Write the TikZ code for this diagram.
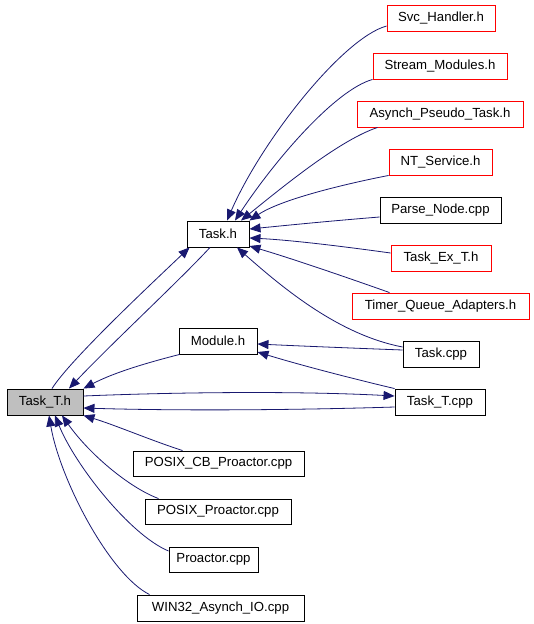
\documentclass[tikz,border=0pt]{standalone}
\usepackage{fontspec}
\setmainfont{Liberation Sans}
\usetikzlibrary{arrows.meta,calc}
\definecolor{edgeblue}{HTML}{191970}
\definecolor{boxred}{HTML}{FF0000}
\definecolor{boxgray}{HTML}{BFBFBF}
\begin{document}
\begin{tikzpicture}[x=1pt,y=-1pt,
  file/.style={draw=black,line width=0.9pt,inner sep=0pt,minimum height=26pt,font=\fontsize{13.2}{15}\selectfont},
  redfile/.style={file,draw=boxred},
  edge/.style={draw=edgeblue,line width=0.8pt,-{Triangle[length=11pt,width=9pt]}}]
\useasboundingbox[fill=white] (0,0) rectangle (533,624);
% nodes
\node[redfile,minimum width=108pt] (svc) at (441,18) {Svc\_Handler.h};
\node[redfile,minimum width=134pt] (stream) at (440,66) {Stream\_Modules.h};
\node[redfile,minimum width=166pt] (asynch) at (440,114) {Asynch\_Pseudo\_Task.h};
\node[redfile,minimum width=103pt] (nt) at (440.5,162) {NT\_Service.h};
\node[file,minimum width=121pt] (parse) at (440.5,210) {Parse\_Node.cpp};
\node[file,minimum width=62pt] (taskh) at (218,234) {Task.h};
\node[redfile,minimum width=100pt] (taskex) at (441,258) {Task\_Ex\_T.h};
\node[redfile,minimum width=177pt] (timer) at (440.5,306) {Timer\_Queue\_Adapters.h};
\node[file,minimum width=78pt] (module) at (218,341) {Module.h};
\node[file,minimum width=76pt] (taskcpp) at (441,354) {Task.cpp};
\node[file,minimum width=90pt] (tasktcpp) at (440,402) {Task\_T.cpp};
\node[file,minimum width=76pt,fill=boxgray] (taskth) at (45,402) {Task\_T.h};
\node[file,minimum width=171pt,minimum height=25pt] (poscb) at (218.5,463.5) {POSIX\_CB\_Proactor.cpp};
\node[file,minimum width=146pt,minimum height=25pt] (pospro) at (218,511.5) {POSIX\_Proactor.cpp};
\node[file,minimum width=89pt,minimum height=25pt] (proactor) at (213.5,559.5) {Proactor.cpp};
\node[file,minimum width=167pt] (win32) at (220.5,608) {WIN32\_Asynch\_IO.cpp};
% edges into Task.h
\draw[edge] ($(svc.west)+(0,8)$) .. controls (343,38) and (262,140) .. ($(taskh.north)+(9,0)$);
\draw[edge] (stream.south west) .. controls (335,90) and (275,160) .. ($(taskh.north)+(17,0)$);
\draw[edge] ($(asynch.south west)+(21,0)$) .. controls (340,140) and (285,185) .. ($(taskh.north)+(23,0)$);
\draw[edge] (nt.south west) .. controls (340,185) and (280,200) .. (taskh.north east);
\draw[edge] ($(parse.west)+(0,7)$) .. controls (330,221) and (290,225) .. ($(taskh.east)+(0,-5)$);
\draw[edge] ($(taskex.west)+(0,-5)$) .. controls (340,246) and (290,240) .. ($(taskh.east)+(0,4)$);
\draw[edge] ($(timer.north west)+(38,0)$) .. controls (340,275) and (290,258) .. ($(taskh.east)+(0,12)$);
\draw[edge] ($(taskcpp.west)+(0,-7)$) .. controls (340,335) and (285,290) .. ($(taskh.south)+(19,0)$);
\draw[edge] ($(taskth.north)+(7,0)$) .. controls (70,360) and (150,285) .. ($(taskh.south west)+(3,0)$);
% edges into Task_T.h
\draw[edge] ($(taskh.south)+(-8,0)$) .. controls (180,280) and (110,345) .. ($(taskth.north)+(24,0)$);
\draw[edge] ($(module.south west)+(1,0)$) .. controls (150,362) and (115,372) .. (taskth.north east);
\draw[edge] ($(tasktcpp.west)+(0,5)$) .. controls (300,410) and (180,411) .. ($(taskth.east)+(0,6)$);
\draw[edge] ($(poscb.north west)+(50,0)$) .. controls (150,440) and (115,425) .. (taskth.south east);
\draw[edge] ($(pospro.north west)+(14,0)$) .. controls (130,488) and (90,455) .. ($(taskth.south)+(17,0)$);
\draw[edge] ($(proactor.west)+(0,-8.5)$) .. controls (130,535) and (75,465) .. ($(taskth.south)+(10,0)$);
\draw[edge] ($(win32.north west)+(13,0)$) .. controls (110,575) and (60,480) .. ($(taskth.south)+(4,0)$);
% edge into Task_T.cpp
\draw[edge] ($(taskth.east)+(0,-6)$) .. controls (180,392) and (300,391) .. ($(tasktcpp.west)+(0,-6)$);
% edges into Module.h
\draw[edge] ($(taskcpp.west)+(0,-4)$) .. controls (350,348) and (300,346) .. ($(module.east)+(0,3)$);
\draw[edge] (tasktcpp.north west) .. controls (350,378) and (300,365) .. ($(module.east)+(0,11)$);
\end{tikzpicture}
\end{document}
